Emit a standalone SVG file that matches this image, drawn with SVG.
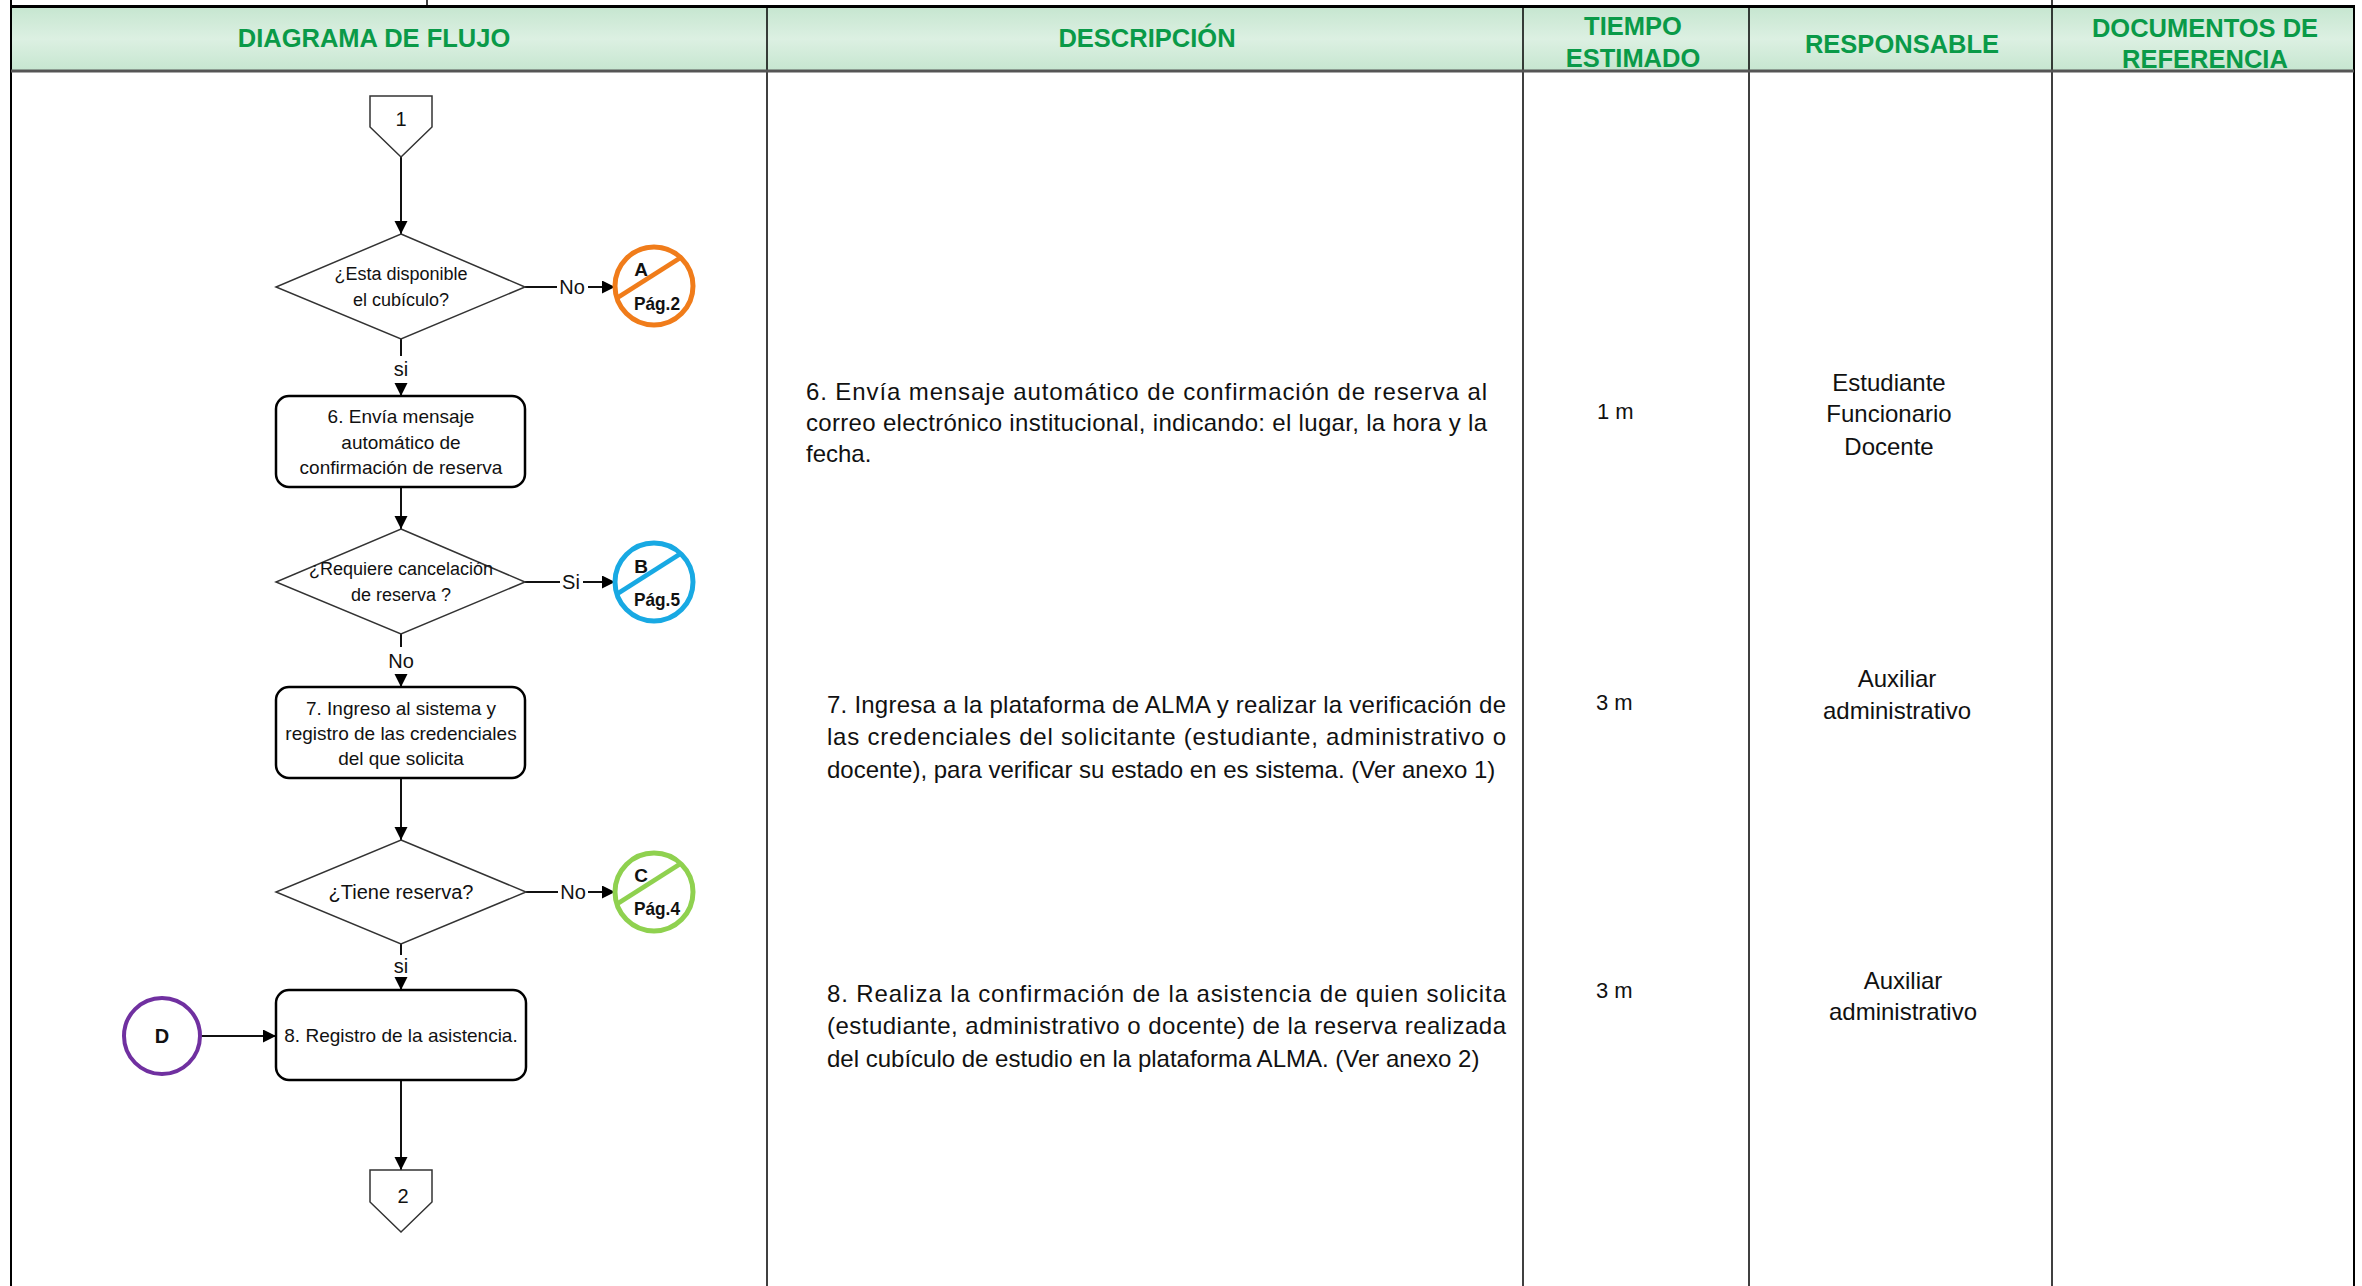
<svg xmlns="http://www.w3.org/2000/svg" width="2362" height="1286" viewBox="0 0 2362 1286">
<defs>
<linearGradient id="hg" x1="0" y1="0" x2="0" y2="1">
<stop offset="0" stop-color="#C6E6D0"/>
<stop offset="0.5" stop-color="#DCF0E2"/>
<stop offset="1" stop-color="#C6E6D0"/>
</linearGradient>
<marker id="arr" markerUnits="userSpaceOnUse" markerWidth="14" markerHeight="14" refX="13" refY="6.5" orient="auto">
<path d="M0,0 L13,6.5 L0,13 z" fill="#000"/>
</marker>
<style>
text{font-family:"Liberation Sans",Arial,sans-serif;fill:#111}
.hdr{font-size:25.5px;font-weight:bold;fill:#0A9A48;text-anchor:middle}
.desc{font-size:24px}
.cell{font-size:24px;text-anchor:middle}
.tm{font-size:22px}
.bx{fill:#fff;stroke:#000;stroke-width:2.5}
.dia{fill:#fff;stroke:#333;stroke-width:1.5}
.pent{fill:#fff;stroke:#333;stroke-width:1.5}
.nt{font-size:19px;text-anchor:middle}
.dt{font-size:18px;text-anchor:middle}
.lbl{font-size:20px;text-anchor:middle}
.conn{fill:none;stroke:#111;stroke-width:2;marker-end:url(#arr)}
.ref{fill:#fff;stroke-width:5}
.rl{font-size:19px;font-weight:bold;text-anchor:middle}
.grid{stroke:#000;stroke-width:1.5}
</style>
</defs>
<rect x="0" y="0" width="2362" height="1286" fill="#fff"/>

<g id="table">
<rect x="11" y="7" width="2343" height="64" fill="url(#hg)"/>
<line class="grid" x1="427" y1="0" x2="427" y2="6"/>
<line class="grid" x1="2052" y1="0" x2="2052" y2="6"/>
<line x1="11" y1="6.5" x2="2355" y2="6.5" stroke="#000" stroke-width="3"/>
<line x1="11" y1="0" x2="11" y2="1286" stroke="#000" stroke-width="2"/>
<line x1="2354" y1="6" x2="2354" y2="1286" stroke="#000" stroke-width="2"/>
<line class="grid" x1="767" y1="6" x2="767" y2="1286"/>
<line class="grid" x1="1523" y1="6" x2="1523" y2="1286"/>
<line class="grid" x1="1749" y1="6" x2="1749" y2="1286"/>
<line class="grid" x1="2052" y1="6" x2="2052" y2="1286"/>
<line x1="11" y1="71" x2="2354" y2="71" stroke="#555" stroke-width="3"/>
</g>

<g id="header">
<text class="hdr" x="374" y="47">DIAGRAMA DE FLUJO</text>
<text class="hdr" x="1147" y="47">DESCRIPCIÓN</text>
<text class="hdr" x="1633" y="35">TIEMPO</text>
<text class="hdr" x="1633" y="67">ESTIMADO</text>
<text class="hdr" x="1902" y="53">RESPONSABLE</text>
<text class="hdr" x="2205" y="37">DOCUMENTOS DE</text>
<text class="hdr" x="2205" y="68">REFERENCIA</text>
</g>

<g id="descripcion">
<text class="desc" x="806" y="400" textLength="681" lengthAdjust="spacing">6. Envía mensaje automático de confirmación de reserva al</text>
<text class="desc" x="806" y="431" textLength="681" lengthAdjust="spacing">correo electrónico institucional, indicando: el lugar, la hora y la</text>
<text class="desc" x="806" y="462">fecha.</text>
<text class="desc" x="827" y="713" textLength="679" lengthAdjust="spacing">7. Ingresa a la plataforma de ALMA y realizar la verificación de</text>
<text class="desc" x="827" y="745" textLength="679" lengthAdjust="spacing">las credenciales del solicitante (estudiante, administrativo o</text>
<text class="desc" x="827" y="778">docente), para verificar su estado en es sistema. (Ver anexo 1)</text>
<text class="desc" x="827" y="1002" textLength="679" lengthAdjust="spacing">8. Realiza la confirmación de la asistencia de quien solicita</text>
<text class="desc" x="827" y="1034" textLength="679" lengthAdjust="spacing">(estudiante, administrativo o docente)  de la reserva realizada</text>
<text class="desc" x="827" y="1067">del cubículo de estudio en la plataforma ALMA. (Ver anexo 2)</text>
</g>

<g id="tiempo">
<text class="tm" x="1597" y="419">1 m</text>
<text class="tm" x="1596" y="710">3 m</text>
<text class="tm" x="1596" y="998">3 m</text>
</g>

<g id="responsable">
<text class="cell" x="1889" y="391">Estudiante</text>
<text class="cell" x="1889" y="422">Funcionario</text>
<text class="cell" x="1889" y="455">Docente</text>
<text class="cell" x="1897" y="687">Auxiliar</text>
<text class="cell" x="1897" y="719">administrativo</text>
<text class="cell" x="1903" y="989">Auxiliar</text>
<text class="cell" x="1903" y="1020">administrativo</text>
</g>

<g id="connectors">
<path class="conn" d="M401,157 V234"/>
<path class="conn" d="M525,287 H557 M588,287 H615"/>
<path class="conn" d="M401,339 V356 M401,383 V396"/>
<path class="conn" d="M401,487 V529"/>
<path class="conn" d="M525,582 H560 M583,582 H615"/>
<path class="conn" d="M401,634 V647 M401,675 V687"/>
<path class="conn" d="M401,778 V840"/>
<path class="conn" d="M526,892 H558 M588,892 H615"/>
<path class="conn" d="M401,944 V955 M401,978 V990"/>
<path class="conn" d="M201,1036 H276"/>
<path class="conn" d="M401,1080 V1170"/>
<text class="lbl" x="572" y="294">No</text>
<text class="lbl" x="401" y="376">si</text>
<text class="lbl" x="571" y="589">Si</text>
<text class="lbl" x="401" y="668">No</text>
<text class="lbl" x="573" y="899">No</text>
<text class="lbl" x="401" y="973">si</text>
</g>

<g id="n-conector-1">
<path class="pent" d="M370,96 H432 V127 L401,157 L370,127 Z"/>
<text class="lbl" x="401" y="126">1</text>
</g>

<g id="n-decision-disponible">
<polygon class="dia" points="401,234 525,287 401,339 276,287"/>
<text class="dt" x="401" y="280">¿Esta disponible</text>
<text class="dt" x="401" y="306">el cubículo?</text>
</g>

<g id="n-ref-A">
<circle class="ref" cx="654" cy="286" r="39" stroke="#F07C1A"/>
<line x1="617" y1="298" x2="680" y2="258" stroke="#F07C1A" stroke-width="4.5"/>
<text class="rl" x="641" y="276">A</text>
<text class="rl" x="657" y="310" textLength="46" lengthAdjust="spacingAndGlyphs">Pág.2</text>
</g>

<g id="n-paso-6">
<rect class="bx" x="276" y="396" width="249" height="91" rx="13"/>
<text class="nt" x="401" y="423">6. Envía mensaje</text>
<text class="nt" x="401" y="449">automático de</text>
<text class="nt" x="401" y="474">confirmación de reserva</text>
</g>

<g id="n-decision-cancelacion">
<polygon class="dia" points="401,529 525,582 401,634 276,582"/>
<text class="dt" x="401" y="575">¿Requiere cancelación</text>
<text class="dt" x="401" y="601">de reserva ?</text>
</g>

<g id="n-ref-B">
<circle class="ref" cx="654" cy="582" r="39" stroke="#18A9E3"/>
<line x1="617" y1="594" x2="680" y2="554" stroke="#18A9E3" stroke-width="4.5"/>
<text class="rl" x="641" y="573">B</text>
<text class="rl" x="657" y="606" textLength="46" lengthAdjust="spacingAndGlyphs">Pág.5</text>
</g>

<g id="n-paso-7">
<rect class="bx" x="276" y="687" width="249" height="91" rx="13"/>
<text class="nt" x="401" y="715">7. Ingreso al sistema y</text>
<text class="nt" x="401" y="740">registro de las credenciales</text>
<text class="nt" x="401" y="765">del que solicita</text>
</g>

<g id="n-decision-reserva">
<polygon class="dia" points="401,840 526,892 401,944 276,892"/>
<text class="lbl" x="401" y="899">¿Tiene reserva?</text>
</g>

<g id="n-ref-C">
<circle class="ref" cx="654" cy="892" r="39" stroke="#8FD14F"/>
<line x1="617" y1="904" x2="680" y2="864" stroke="#8FD14F" stroke-width="4.5"/>
<text class="rl" x="641" y="882">C</text>
<text class="rl" x="657" y="915" textLength="46" lengthAdjust="spacingAndGlyphs">Pág.4</text>
</g>

<g id="n-ref-D">
<circle cx="162" cy="1036" r="38" fill="#fff" stroke="#7030A0" stroke-width="4"/>
<text class="rl" x="162" y="1043" style="font-size:20px">D</text>
</g>

<g id="n-paso-8">
<rect class="bx" x="276" y="990" width="250" height="90" rx="13"/>
<text class="nt" x="401" y="1042">8. Registro de la asistencia.</text>
</g>

<g id="n-conector-2">
<path class="pent" d="M370,1170 H432 V1202 L401,1232 L370,1202 Z"/>
<text class="lbl" x="403" y="1203">2</text>
</g>
</svg>
